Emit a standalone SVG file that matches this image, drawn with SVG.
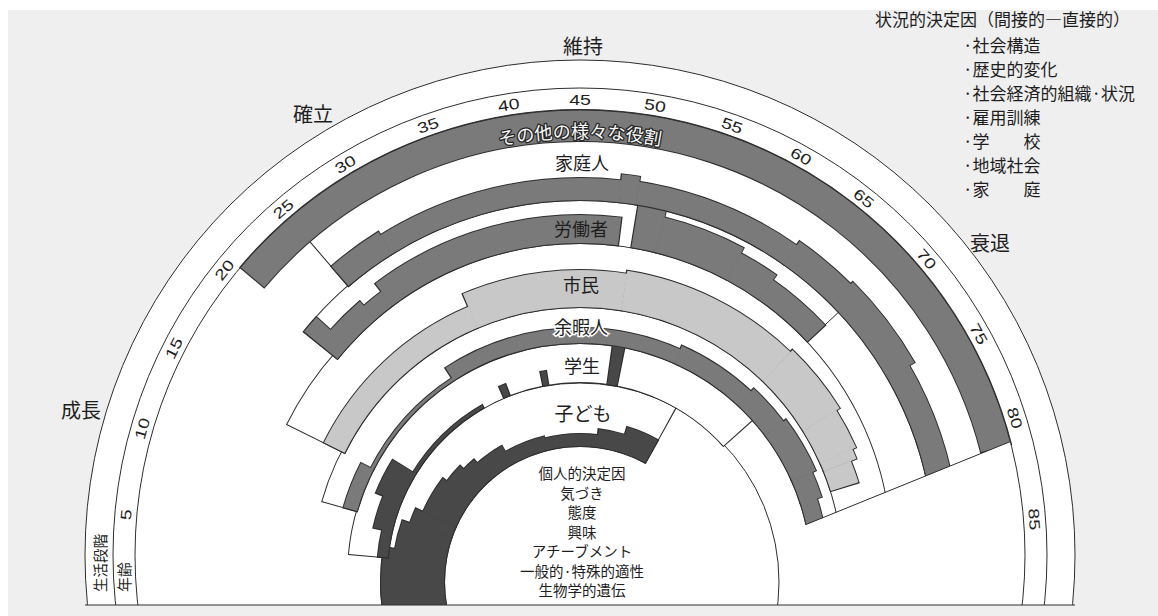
<svg xmlns="http://www.w3.org/2000/svg" width="1158" height="616" viewBox="0 0 1158 616">
<defs>
<style>
.u{fill:none;stroke:#2e2e2e}
.w{fill:none;stroke:#fff}
.m{fill:none;stroke:#7a7a7a}
.l{fill:none;stroke:#c8c8c8}
.d{fill:none;stroke:#484848}
.ln{fill:none;stroke:#2e2e2e;stroke-width:1}
.t{font-family:"Noto Sans CJK JP","Noto Sans CJK SC",sans-serif;fill:#1e1e1e}
.n{font-family:"Liberation Sans",Arial,sans-serif;font-size:15px;fill:#1e1e1e;text-anchor:middle}
</style>
<clipPath id="cp"><rect x="0" y="0" width="1158" height="605"/></clipPath>
</defs>
<rect x="0" y="0" width="1158" height="616" fill="#efefef"/>
<rect x="0" y="0" width="1158" height="10" fill="#fff"/>
<rect x="0" y="0" width="8" height="616" fill="#fff"/>

<g id="rainbow" clip-path="url(#cp)">
<circle cx="580" cy="555" r="495" fill="#fff" stroke="#2e2e2e"/>
<circle cx="580" cy="555" r="467" class="ln"/>

<g id="ring-kodomo" transform="translate(580 582)">
<circle class="u" r="167.5" pathLength="360" stroke-width="65" stroke-dasharray="131.4 400" stroke-dashoffset="-167.65"/>
<circle class="w" r="167.5" pathLength="360" stroke-width="63" stroke-dasharray="130.7 400" stroke-dashoffset="-168"/>
<circle class="ln" r="199"/>
</g>
<g id="ring-gakusei" transform="translate(580 575)">
<circle class="u" r="212.5" pathLength="360" stroke-width="41" stroke-dasharray="133.34 400" stroke-dashoffset="-184.93"/>
<circle class="w" r="212.5" pathLength="360" stroke-width="39" stroke-dasharray="132.8 400" stroke-dashoffset="-185.2"/>
</g>
<g id="ring-yoka" transform="translate(580 575)">
<circle class="u" r="250" pathLength="360" stroke-width="38" stroke-dasharray="158.46 400" stroke-dashoffset="-195.77"/>
<circle class="w" r="250" pathLength="360" stroke-width="36" stroke-dasharray="158 400" stroke-dashoffset="-196"/>
</g>
<g id="ring-shimin" transform="translate(580 570)">
<circle class="u" r="295" pathLength="360" stroke-width="66" stroke-dasharray="147.9 400" stroke-dashoffset="-206.3"/>
<circle class="w" r="295" pathLength="360" stroke-width="64" stroke-dasharray="147.5 400" stroke-dashoffset="-206.5"/>
</g>
<g id="ring-rodo" transform="translate(580 555)">
<circle class="u" r="333.5" pathLength="360" stroke-width="45" stroke-dasharray="135.34 400" stroke-dashoffset="-218.83"/>
<circle class="w" r="333.5" pathLength="360" stroke-width="43" stroke-dasharray="135 400" stroke-dashoffset="-219"/>
</g>
<g id="ring-katei" transform="translate(580 555)">
<circle class="u" r="384.5" pathLength="360" stroke-width="61" stroke-dasharray="125 400" stroke-dashoffset="-229.15"/>
<circle class="w" r="384.5" pathLength="360" stroke-width="59" stroke-dasharray="124.7 400" stroke-dashoffset="-229.3"/>
</g>

<g id="band-kodomo" transform="translate(580 582)">
<circle class="u" r="167.5" pathLength="360" stroke-width="65" stroke-dasharray="22.92 400" stroke-dashoffset="-167.54"/>
<circle class="u" r="162" pathLength="360" stroke-width="54" stroke-dasharray="9.92 400" stroke-dashoffset="-189.54"/>
<circle class="u" r="158" pathLength="360" stroke-width="46" stroke-dasharray="5.92 400" stroke-dashoffset="-198.54"/>
<circle class="u" r="154" pathLength="360" stroke-width="38" stroke-dasharray="13.92 400" stroke-dashoffset="-203.54"/>
<circle class="u" r="151.5" pathLength="360" stroke-width="33" stroke-dasharray="7.92 400" stroke-dashoffset="-216.54"/>
<circle class="u" r="149" pathLength="360" stroke-width="28" stroke-dasharray="5.92 400" stroke-dashoffset="-223.54"/>
<circle class="u" r="146.5" pathLength="360" stroke-width="23" stroke-dasharray="11.92 400" stroke-dashoffset="-228.54"/>
<circle class="u" r="143" pathLength="360" stroke-width="16" stroke-dasharray="16.92 400" stroke-dashoffset="-239.54"/>
<circle class="u" r="142" pathLength="360" stroke-width="14" stroke-dasharray="21.92 400" stroke-dashoffset="-255.54"/>
<circle class="u" r="145" pathLength="360" stroke-width="20" stroke-dasharray="10.92 400" stroke-dashoffset="-276.54"/>
<circle class="u" r="149" pathLength="360" stroke-width="28" stroke-dasharray="12.62 400" stroke-dashoffset="-286.54"/>
<circle class="d" r="167.5" pathLength="360" stroke-width="63" stroke-dasharray="22.15 400" stroke-dashoffset="-168"/>
<circle class="d" r="162" pathLength="360" stroke-width="52" stroke-dasharray="9.15 400" stroke-dashoffset="-190"/>
<circle class="d" r="158" pathLength="360" stroke-width="44" stroke-dasharray="5.15 400" stroke-dashoffset="-199"/>
<circle class="d" r="154" pathLength="360" stroke-width="36" stroke-dasharray="13.15 400" stroke-dashoffset="-204"/>
<circle class="d" r="151.5" pathLength="360" stroke-width="31" stroke-dasharray="7.15 400" stroke-dashoffset="-217"/>
<circle class="d" r="149" pathLength="360" stroke-width="26" stroke-dasharray="5.15 400" stroke-dashoffset="-224"/>
<circle class="d" r="146.5" pathLength="360" stroke-width="21" stroke-dasharray="11.15 400" stroke-dashoffset="-229"/>
<circle class="d" r="143" pathLength="360" stroke-width="14" stroke-dasharray="16.15 400" stroke-dashoffset="-240"/>
<circle class="d" r="142" pathLength="360" stroke-width="12" stroke-dasharray="21.15 400" stroke-dashoffset="-256"/>
<circle class="d" r="145" pathLength="360" stroke-width="18" stroke-dasharray="10.15 400" stroke-dashoffset="-277"/>
<circle class="d" r="149" pathLength="360" stroke-width="26" stroke-dasharray="11.7 400" stroke-dashoffset="-287"/>
</g>

<g id="band-gakusei" transform="translate(580 575)">
<circle class="u" r="198" pathLength="360" stroke-width="12" stroke-dasharray="8.49 400" stroke-dashoffset="-184.855"/>
<circle class="u" r="202.5" pathLength="360" stroke-width="21" stroke-dasharray="9.69 400" stroke-dashoffset="-192.655"/>
<circle class="u" r="206.5" pathLength="360" stroke-width="29" stroke-dasharray="10.19 400" stroke-dashoffset="-201.655"/>
<circle class="u" r="194.5" pathLength="360" stroke-width="5" stroke-dasharray="29.19 400" stroke-dashoffset="-211.155"/>
<circle class="u" r="199" pathLength="360" stroke-width="14" stroke-dasharray="2.49 400" stroke-dashoffset="-246.455"/>
<circle class="u" r="200" pathLength="360" stroke-width="16" stroke-dasharray="2.19 400" stroke-dashoffset="-258.655"/>
<circle class="u" r="212.5" pathLength="360" stroke-width="41" stroke-dasharray="3.45 400" stroke-dashoffset="-277.875"/>
<circle class="d" r="198" pathLength="360" stroke-width="10" stroke-dasharray="7.915 400" stroke-dashoffset="-185.2"/>
<circle class="d" r="202.5" pathLength="360" stroke-width="19" stroke-dasharray="9.115 400" stroke-dashoffset="-193"/>
<circle class="d" r="206.5" pathLength="360" stroke-width="27" stroke-dasharray="9.615 400" stroke-dashoffset="-202"/>
<circle class="d" r="194.5" pathLength="360" stroke-width="3" stroke-dasharray="28.5 400" stroke-dashoffset="-211.5"/>
<circle class="d" r="199" pathLength="360" stroke-width="12" stroke-dasharray="1.8 400" stroke-dashoffset="-246.8"/>
<circle class="d" r="200" pathLength="360" stroke-width="14" stroke-dasharray="1.5 400" stroke-dashoffset="-259"/>
<circle class="d" r="212.5" pathLength="360" stroke-width="39" stroke-dasharray="2.8 400" stroke-dashoffset="-278.2"/>
</g>

<g id="band-yoka" transform="translate(580 575)">
<circle class="u" r="239" pathLength="360" stroke-width="16" stroke-dasharray="11.58 400" stroke-dashoffset="-195.71"/>
<circle class="u" r="233.5" pathLength="360" stroke-width="5" stroke-dasharray="30.58 400" stroke-dashoffset="-206.71"/>
<circle class="u" r="239.5" pathLength="360" stroke-width="17" stroke-dasharray="57.58 400" stroke-dashoffset="-236.71"/>
<circle class="u" r="241.5" pathLength="360" stroke-width="21" stroke-dasharray="19.58 400" stroke-dashoffset="-293.71"/>
<circle class="u" r="243.5" pathLength="360" stroke-width="25" stroke-dasharray="10.58 400" stroke-dashoffset="-312.71"/>
<circle class="u" r="245" pathLength="360" stroke-width="28" stroke-dasharray="13.58 400" stroke-dashoffset="-322.71"/>
<circle class="u" r="243" pathLength="360" stroke-width="24" stroke-dasharray="6.58 400" stroke-dashoffset="-335.71"/>
<circle class="u" r="240.5" pathLength="360" stroke-width="19" stroke-dasharray="12.58 400" stroke-dashoffset="-341.71"/>
<circle class="m" r="239" pathLength="360" stroke-width="14" stroke-dasharray="11.1 400" stroke-dashoffset="-196"/>
<circle class="m" r="233.5" pathLength="360" stroke-width="3" stroke-dasharray="30.1 400" stroke-dashoffset="-207"/>
<circle class="m" r="239.5" pathLength="360" stroke-width="15" stroke-dasharray="57.1 400" stroke-dashoffset="-237"/>
<circle class="m" r="241.5" pathLength="360" stroke-width="19" stroke-dasharray="19.1 400" stroke-dashoffset="-294"/>
<circle class="m" r="243.5" pathLength="360" stroke-width="23" stroke-dasharray="10.1 400" stroke-dashoffset="-313"/>
<circle class="m" r="245" pathLength="360" stroke-width="26" stroke-dasharray="13.1 400" stroke-dashoffset="-323"/>
<circle class="m" r="243" pathLength="360" stroke-width="22" stroke-dasharray="6.1 400" stroke-dashoffset="-336"/>
<circle class="m" r="240.5" pathLength="360" stroke-width="17" stroke-dasharray="12 400" stroke-dashoffset="-342"/>
</g>

<g id="band-shimin" transform="translate(580 570)">
<circle class="u" r="274.5" pathLength="360" stroke-width="25" stroke-dasharray="40.99 400" stroke-dashoffset="-206.255"/>
<circle class="u" r="281.5" pathLength="360" stroke-width="39" stroke-dasharray="32.49 400" stroke-dashoffset="-246.755"/>
<circle class="u" r="283" pathLength="360" stroke-width="42" stroke-dasharray="35.49 400" stroke-dashoffset="-278.755"/>
<circle class="u" r="284.5" pathLength="360" stroke-width="45" stroke-dasharray="14.49 400" stroke-dashoffset="-313.755"/>
<circle class="u" r="282.5" pathLength="360" stroke-width="41" stroke-dasharray="8.49 400" stroke-dashoffset="-327.755"/>
<circle class="u" r="280.5" pathLength="360" stroke-width="37" stroke-dasharray="2.49 400" stroke-dashoffset="-335.755"/>
<circle class="u" r="277.5" pathLength="360" stroke-width="31" stroke-dasharray="4.99 400" stroke-dashoffset="-337.755"/>
<circle class="l" r="274.5" pathLength="360" stroke-width="23" stroke-dasharray="40.58 400" stroke-dashoffset="-206.5"/>
<circle class="l" r="281.5" pathLength="360" stroke-width="37" stroke-dasharray="32.08 400" stroke-dashoffset="-247"/>
<circle class="l" r="283" pathLength="360" stroke-width="40" stroke-dasharray="35.08 400" stroke-dashoffset="-279"/>
<circle class="l" r="284.5" pathLength="360" stroke-width="43" stroke-dasharray="14.08 400" stroke-dashoffset="-314"/>
<circle class="l" r="282.5" pathLength="360" stroke-width="39" stroke-dasharray="8.08 400" stroke-dashoffset="-328"/>
<circle class="l" r="280.5" pathLength="360" stroke-width="35" stroke-dasharray="2.08 400" stroke-dashoffset="-336"/>
<circle class="l" r="277.5" pathLength="360" stroke-width="29" stroke-dasharray="4.5 400" stroke-dashoffset="-338"/>
</g>

<g id="band-rodo" transform="translate(580 555)">
<circle class="u" r="333.5" pathLength="360" stroke-width="45" stroke-dasharray="3.42 400" stroke-dashoffset="-218.79"/>
<circle class="u" r="324" pathLength="360" stroke-width="26" stroke-dasharray="7.42 400" stroke-dashoffset="-221.79"/>
<circle class="u" r="321" pathLength="360" stroke-width="20" stroke-dasharray="4.42 400" stroke-dashoffset="-228.79"/>
<circle class="u" r="326" pathLength="360" stroke-width="30" stroke-dasharray="44.42 400" stroke-dashoffset="-232.79"/>
<circle class="u" r="333.5" pathLength="360" stroke-width="45" stroke-dasharray="4.92 400" stroke-dashoffset="-279.29"/>
<circle class="u" r="330" pathLength="360" stroke-width="38" stroke-dasharray="14.42 400" stroke-dashoffset="-283.79"/>
<circle class="u" r="327" pathLength="360" stroke-width="32" stroke-dasharray="7.42 400" stroke-dashoffset="-297.79"/>
<circle class="u" r="324" pathLength="360" stroke-width="26" stroke-dasharray="12.22 400" stroke-dashoffset="-304.79"/>
<circle class="m" r="333.5" pathLength="360" stroke-width="43" stroke-dasharray="3.07 400" stroke-dashoffset="-219"/>
<circle class="m" r="324" pathLength="360" stroke-width="24" stroke-dasharray="7.07 400" stroke-dashoffset="-222"/>
<circle class="m" r="321" pathLength="360" stroke-width="18" stroke-dasharray="4.07 400" stroke-dashoffset="-229"/>
<circle class="m" r="326" pathLength="360" stroke-width="28" stroke-dasharray="44 400" stroke-dashoffset="-233"/>
<circle class="m" r="333.5" pathLength="360" stroke-width="43" stroke-dasharray="4.57 400" stroke-dashoffset="-279.5"/>
<circle class="m" r="330" pathLength="360" stroke-width="36" stroke-dasharray="14.07 400" stroke-dashoffset="-284"/>
<circle class="m" r="327" pathLength="360" stroke-width="30" stroke-dasharray="7.07 400" stroke-dashoffset="-298"/>
<circle class="m" r="324" pathLength="360" stroke-width="24" stroke-dasharray="11.8 400" stroke-dashoffset="-305"/>
</g>

<g id="band-katei" transform="translate(580 555)">
<circle class="u" r="368" pathLength="360" stroke-width="28" stroke-dasharray="9.08 400" stroke-dashoffset="-229.11"/>
<circle class="u" r="366" pathLength="360" stroke-width="24" stroke-dasharray="38.68 400" stroke-dashoffset="-237.81"/>
<circle class="u" r="369" pathLength="360" stroke-width="30" stroke-dasharray="3.08 400" stroke-dashoffset="-276.11"/>
<circle class="u" r="366.5" pathLength="360" stroke-width="25" stroke-dasharray="26.38 400" stroke-dashoffset="-278.81"/>
<circle class="u" r="369" pathLength="360" stroke-width="30" stroke-dasharray="10.38 400" stroke-dashoffset="-304.81"/>
<circle class="u" r="370.5" pathLength="360" stroke-width="33" stroke-dasharray="15.38 400" stroke-dashoffset="-314.81"/>
<circle class="u" r="367.5" pathLength="360" stroke-width="27" stroke-dasharray="24.38 400" stroke-dashoffset="-329.81"/>
<circle class="m" r="368" pathLength="360" stroke-width="26" stroke-dasharray="8.76 400" stroke-dashoffset="-229.3"/>
<circle class="m" r="366" pathLength="360" stroke-width="22" stroke-dasharray="38.36 400" stroke-dashoffset="-238"/>
<circle class="m" r="369" pathLength="360" stroke-width="28" stroke-dasharray="2.76 400" stroke-dashoffset="-276.3"/>
<circle class="m" r="366.5" pathLength="360" stroke-width="23" stroke-dasharray="26.06 400" stroke-dashoffset="-279"/>
<circle class="m" r="369" pathLength="360" stroke-width="28" stroke-dasharray="10.06 400" stroke-dashoffset="-305"/>
<circle class="m" r="370.5" pathLength="360" stroke-width="31" stroke-dasharray="15.06 400" stroke-dashoffset="-315"/>
<circle class="m" r="367.5" pathLength="360" stroke-width="25" stroke-dasharray="24 400" stroke-dashoffset="-330"/>
</g>

<g id="band-sonota" transform="translate(580 555)">
<circle class="u" r="429.5" pathLength="360" stroke-width="33" stroke-dasharray="125.62 400" stroke-dashoffset="-220.14"/>
<circle class="m" r="429.5" pathLength="360" stroke-width="31" stroke-dasharray="125.3 400" stroke-dashoffset="-220.3"/>
</g>

<polygon points="1010.5,441.5 794,529.6 794,566 1023.7,539.5 1021.6,508.6 1018.5,485.6 1014.3,462.7" fill="#fff"/>
<circle cx="580" cy="555" r="445" class="ln"/>
</g>

<g id="connectors">
<line x1="1010.5" y1="441.5" x2="806" y2="524.5" class="ln"/>
<line x1="824.9" y1="325" x2="838.8" y2="312" class="ln"/>
<line x1="85" y1="605" x2="1075" y2="605" class="ln"/>
</g>

<g id="ages">
<text class="n" transform="translate(125.8 514.5) rotate(-84.9) scale(1.3 1)" dy="5.5">5</text>
<text class="n" transform="translate(141.9 428.6) rotate(-73.9) scale(1.3 1)" dy="5.5">10</text>
<text class="n" transform="translate(173.7 348) rotate(-63) scale(1.3 1)" dy="5.5">15</text>
<text class="n" transform="translate(224.1 269.9) rotate(-51.3) scale(1.3 1)" dy="5.5">20</text>
<text class="n" transform="translate(283.2 208.8) rotate(-40.6) scale(1.3 1)" dy="5.5">25</text>
<text class="n" transform="translate(345.2 164.1) rotate(-31) scale(1.3 1)" dy="5.5">30</text>
<text class="n" transform="translate(427.8 125.2) rotate(-19.5) scale(1.3 1)" dy="5.5">35</text>
<text class="n" transform="translate(508.7 104.6) rotate(-9) scale(1.3 1)" dy="5.5">40</text>
<text class="n" transform="translate(580 99) scale(1.3 1)" dy="5.5">45</text>
<text class="n" transform="translate(655.2 105.2) rotate(9.5) scale(1.3 1)" dy="5.5">50</text>
<text class="n" transform="translate(732.2 125.2) rotate(19.5) scale(1.3 1)" dy="5.5">55</text>
<text class="n" transform="translate(801.1 156.2) rotate(29) scale(1.3 1)" dy="5.5">60</text>
<text class="n" transform="translate(863.9 198.1) rotate(38.5) scale(1.3 1)" dy="5.5">65</text>
<text class="n" transform="translate(926.7 258.9) rotate(49.5) scale(1.3 1)" dy="5.5">70</text>
<text class="n" transform="translate(978.8 333.9) rotate(61) scale(1.3 1)" dy="5.5">75</text>
<text class="n" transform="translate(1014.9 417.9) rotate(72.5) scale(1.3 1)" dy="5.5">80</text>
<text class="n" transform="translate(1034.6 519.2) rotate(85.5) scale(1.3 1)" dy="5.5">85</text>
</g>

<g id="stages" class="t" font-size="20">
<text x="583" y="54" text-anchor="middle">維持</text>
<text x="313" y="122" text-anchor="middle">確立</text>
<text x="81" y="418" text-anchor="middle">成長</text>
<text x="990" y="251" text-anchor="middle">衰退</text>
<text transform="translate(101 563) rotate(-90)" font-size="14.5" text-anchor="middle" dy="5">生活段階</text>
<text transform="translate(125 577) rotate(-90)" font-size="15" text-anchor="middle" dy="5">年齢</text>
</g>

<g id="role-labels" class="t" text-anchor="middle">
<path id="arcSonota" d="M 371.5 193.9 A 417 417 0 0 1 788.5 193.9" fill="none"/>
<text font-size="18" fill="#fafafa" stroke="#262626" stroke-width="2.6" stroke-linejoin="round" paint-order="stroke"><textPath href="#arcSonota" startOffset="50%" text-anchor="middle">その他の様々な役割</textPath></text>
<text x="582" y="169.5" font-size="18">家庭人</text>
<text x="581" y="235.5" font-size="18">労働者</text>
<text x="581" y="292" font-size="18">市民</text>
<text x="581" y="333.5" font-size="18" stroke="#fff" stroke-width="3" paint-order="stroke">余暇人</text>
<text x="582" y="373" font-size="18">学生</text>
<text x="583" y="420.5" font-size="19">子ども</text>
</g>

<g id="personal" class="t" text-anchor="middle" font-size="14.5">
<text x="582" y="479">個人的決定因</text>
<text x="582" y="498.5">気づき</text>
<text x="582" y="518">態度</text>
<text x="582" y="537.5">興味</text>
<text x="582" y="557">アチーブメント</text>
<text x="582" y="576.5">一般的·特殊的適性</text>
<text x="582" y="596">生物学的遺伝</text>
</g>

<g id="situational" class="t" font-size="17">
<text x="875" y="26">状況的決定因（間接的―直接的）</text>
<text x="963" y="52">·社会構造</text>
<text x="963" y="76">·歴史的変化</text>
<text x="963" y="100">·社会経済的組織·状況</text>
<text x="963" y="124">·雇用訓練</text>
<text x="963" y="148">·学　　校</text>
<text x="963" y="172">·地域社会</text>
<text x="963" y="196">·家　　庭</text>
</g>
</svg>
